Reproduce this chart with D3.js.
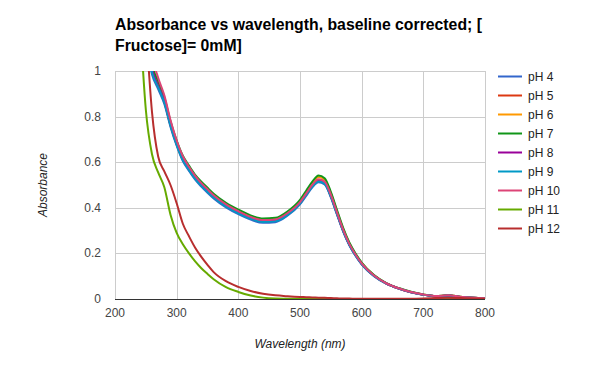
<!DOCTYPE html>
<html>
<head>
<meta charset="utf-8">
<script src="https://cdn.jsdelivr.net/npm/d3@7"></script>
<style>
  body { margin: 0; background: #fff; }
  text { font-family: Arial, "Liberation Sans", sans-serif; }
</style>
</head>
<body>
<div id="chart"></div>
<script>
// wavelengths (nm) shared by every series
const wavelengths = [240,250,260,270,280,290,300,310,320,330,340,350,360,380,400,420,440,460,480,500,
  510,520,530,540,550,560,570,580,590,600,620,640,660,680,700,720,740,760,780,800];

const ph4 = [1.40,1.12,0.985,0.92,0.855,0.755,0.672,0.605,0.562,0.523,0.493,0.466,0.441,0.402,0.372,0.348,0.334,0.337,0.366,0.415,
  0.452,0.490,0.512,0.502,0.446,0.370,0.296,0.236,0.190,0.152,0.100,0.067,0.046,0.030,0.019,0.012,0.015,0.009,0.005,0.003];
const ph5 = [1.47,1.16,1.0,0.93,0.865,0.763,0.679,0.612,0.569,0.530,0.500,0.473,0.447,0.408,0.378,0.354,0.340,0.343,0.372,0.421,
  0.459,0.497,0.520,0.509,0.452,0.375,0.300,0.239,0.193,0.154,0.102,0.068,0.046,0.030,0.019,0.012,0.015,0.009,0.005,0.003];
const ph6 = [1.52,1.20,1.02,0.945,0.877,0.773,0.688,0.621,0.578,0.539,0.509,0.482,0.456,0.416,0.386,0.361,0.347,0.350,0.379,0.428,
  0.467,0.507,0.535,0.523,0.464,0.385,0.308,0.245,0.197,0.158,0.104,0.069,0.047,0.031,0.020,0.013,0.016,0.010,0.006,0.003];
const ph7 = [1.55,1.22,1.03,0.955,0.885,0.78,0.695,0.628,0.585,0.545,0.515,0.488,0.462,0.422,0.392,0.367,0.353,0.356,0.385,0.435,
  0.475,0.515,0.542,0.530,0.470,0.390,0.312,0.248,0.200,0.160,0.105,0.070,0.048,0.032,0.020,0.013,0.016,0.010,0.006,0.003];
const ph8 = [1.49,1.18,1.01,0.935,0.868,0.765,0.681,0.614,0.571,0.532,0.502,0.475,0.449,0.410,0.380,0.356,0.342,0.345,0.373,0.422,
  0.460,0.496,0.518,0.508,0.451,0.374,0.299,0.238,0.192,0.154,0.102,0.068,0.046,0.030,0.019,0.012,0.015,0.009,0.005,0.003];
const ph9 = [1.45,1.15,0.995,0.928,0.862,0.760,0.676,0.609,0.566,0.527,0.497,0.470,0.445,0.406,0.376,0.352,0.338,0.341,0.369,0.418,
  0.456,0.493,0.515,0.505,0.449,0.372,0.298,0.237,0.191,0.153,0.101,0.067,0.046,0.030,0.019,0.012,0.015,0.009,0.005,0.003];
const ph10 = [1.62,1.28,1.07,0.97,0.893,0.785,0.695,0.626,0.580,0.540,0.508,0.481,0.455,0.415,0.385,0.360,0.346,0.349,0.377,0.425,
  0.463,0.501,0.525,0.515,0.458,0.380,0.304,0.242,0.195,0.156,0.103,0.069,0.047,0.031,0.020,0.013,0.016,0.010,0.006,0.003];
const ph11 = [1.25,0.83,0.635,0.555,0.49,0.37,0.29,0.24,0.20,0.165,0.135,0.11,0.087,0.052,0.031,0.015,0.006,0.002,0.001,0,
  0,0,0,0,0,0,0,0,0,0,0,0,0,0,0,0,0,0,0,0];
const ph12 = [1.6,1.2,0.82,0.625,0.56,0.50,0.42,0.33,0.275,0.225,0.185,0.15,0.118,0.078,0.053,0.035,0.023,0.016,0.012,0.009,
  0.008,0.007,0.006,0.005,0.004,0.003,0.002,0.002,0.001,0.001,0.001,0.001,0.001,0.001,0.002,0.004,0.006,0.004,0.002,0.001];

const seriesNames = ["pH 4","pH 5","pH 6","pH 7","pH 8","pH 9","pH 10","pH 11","pH 12"];
const seriesValues = [ph4, ph5, ph6, ph7, ph8, ph9, ph10, ph11, ph12];
const colors = ["#3366cc","#dc3912","#ff9900","#109618","#990099","#0099c6","#dd4477","#66aa00","#b82e2e"];
const xTicks = [200,300,400,500,600,700,800];
const yTicks = [0,0.2,0.4,0.6,0.8,1];

const width = 600, height = 371;
const margin = {left: 115, right: 115, top: 71, bottom: 72};

const svg = d3.select("#chart").append("svg")
  .attr("width", width)
  .attr("height", height);

const x = d3.scaleLinear().domain([200, 800]).range([margin.left, width - margin.right]);
const y = d3.scaleLinear().domain([0, 1]).range([height - margin.bottom, margin.top]);

// title
const title = svg.append("text")
  .attr("x", 115).attr("y", 30)
  .style("font-size", "15.8px").style("font-weight", "bold").attr("fill", "#000");
title.append("tspan").attr("x", 115).attr("y", 30).text("Absorbance vs wavelength, baseline corrected; [");
title.append("tspan").attr("x", 115).attr("y", 51).text("Fructose]= 0mM]");

// gridlines
svg.append("g").selectAll("line").data(yTicks.filter(d => d > 0)).join("line")
  .attr("x1", x(200)).attr("x2", x(800))
  .attr("y1", d => Math.round(y(d)) + 0.5).attr("y2", d => Math.round(y(d)) + 0.5)
  .attr("stroke", "#cccccc");
svg.append("g").selectAll("line").data(xTicks).join("line")
  .attr("x1", d => Math.round(x(d)) + 0.5).attr("x2", d => Math.round(x(d)) + 0.5)
  .attr("y1", y(0)).attr("y2", y(1))
  .attr("stroke", "#cccccc");

// tick labels
svg.append("g").selectAll("text").data(yTicks).join("text")
  .attr("x", 101).attr("y", d => y(d) + 4)
  .attr("text-anchor", "end")
  .style("font-size", "12px").attr("fill", "#444")
  .text(d => d3.format("~g")(d));
svg.append("g").selectAll("text").data(xTicks).join("text")
  .attr("x", d => x(d)).attr("y", 317)
  .attr("text-anchor", "middle")
  .style("font-size", "12px").attr("fill", "#444")
  .text(d => d);

// axis titles
svg.append("text")
  .attr("transform", `translate(47,${y(0.5)}) rotate(-90)`)
  .attr("text-anchor", "middle")
  .style("font-size", "12px").style("font-style", "italic").attr("fill", "#222")
  .text("Absorbance");
svg.append("text")
  .attr("x", x(500)).attr("y", 348)
  .attr("text-anchor", "middle")
  .style("font-size", "12px").style("font-style", "italic").attr("fill", "#222")
  .text("Wavelength (nm)");

// lines
svg.append("clipPath").attr("id", "clip").append("rect")
  .attr("x", x(200)).attr("y", y(1))
  .attr("width", x(800) - x(200)).attr("height", y(0) - y(1));

const line = d3.line()
  .x((d, i) => x(wavelengths[i]))
  .y(d => y(d))
  .curve(d3.curveMonotoneX);

svg.append("g").attr("clip-path", "url(#clip)")
  .selectAll("path").data(seriesValues).join("path")
  .attr("d", d => line(d))
  .attr("fill", "none")
  .attr("stroke", (d, i) => colors[i])
  .attr("stroke-width", 2);

// baseline
svg.append("line")
  .attr("x1", x(200)).attr("x2", x(800))
  .attr("y1", Math.round(y(0)) + 0.5).attr("y2", Math.round(y(0)) + 0.5)
  .attr("stroke", "#333");

// legend
const legend = svg.append("g").selectAll("g").data(seriesNames).join("g")
  .attr("transform", (d, i) => `translate(498,${76.5 + i * 19})`);
legend.append("line")
  .attr("x1", 0).attr("x2", 24)
  .attr("stroke", (d, i) => colors[i]).attr("stroke-width", 2);
legend.append("text")
  .attr("x", 30).attr("y", 4)
  .style("font-size", "12px").attr("fill", "#222")
  .text(d => d);
</script>
</body>
</html>
